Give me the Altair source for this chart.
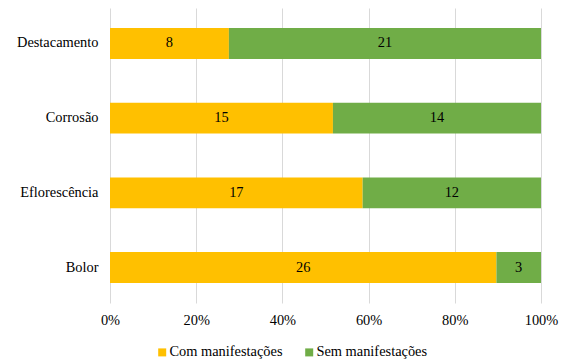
import altair as alt
import pandas as pd

categories = ["Destacamento", "Corrosão", "Eflorescência", "Bolor"]
com_values = [8, 15, 17, 26]
sem_values = [21, 14, 12, 3]
series = ["Com manifestações", "Sem manifestações"]
colors = ["#FFC000", "#70AD47"]

rows = []
for i, c in enumerate(categories):
    rows.append({"cat": c, "serie": series[0], "ord": 0, "value": com_values[i]})
    rows.append({"cat": c, "serie": series[1], "ord": 1, "value": sem_values[i]})
df = pd.DataFrame(rows)

FONT = "Liberation Serif, DejaVu Serif, serif"
FS = 14.4

y_enc = alt.Y("cat:N", sort=categories, title=None,
              scale=alt.Scale(paddingInner=0.586, paddingOuter=0.267),
              axis=alt.Axis(ticks=False, domain=False, labelFontSize=FS,
                            labelFont=FONT, labelColor="#000", labelPadding=12))

bars = alt.Chart(df).mark_bar().encode(
    x=alt.X("value:Q", stack="normalize", title=None,
            scale=alt.Scale(domain=[0, 1], nice=False),
            axis=alt.Axis(format="%", values=[0, 0.2, 0.4, 0.6, 0.8, 1.0],
                          ticks=False, domain=False, labelFontSize=FS,
                          labelFont=FONT, labelColor="#000", labelPadding=10,
                          gridColor="#d9d9d9", labelFlush=False)),
    y=y_enc,
    color=alt.Color("serie:N", sort=series,
                    scale=alt.Scale(domain=series, range=colors),
                    legend=alt.Legend(title=None, orient="none", direction="horizontal",
                                      legendX=45, legendY=337, symbolType="square",
                                      symbolSize=64, symbolStrokeWidth=0,
                                      labelFont=FONT, labelFontSize=FS, labelColor="#000",
                                      columnPadding=19, padding=0, labelOffset=0)),
    order=alt.Order("ord:Q"),
)

text = alt.Chart(df).transform_joinaggregate(
    total="sum(value)", groupby=["cat"]
).transform_window(
    cum="sum(value)", groupby=["cat"], sort=[alt.SortField("ord")]
).transform_calculate(
    mid="(datum.cum - datum.value/2) / datum.total"
).mark_text(font=FONT, fontSize=FS, color="#000").encode(
    x=alt.X("mid:Q"),
    y=alt.Y("cat:N", sort=categories),
    text="value:Q",
)

chart = (bars + text).properties(
    width=431, height=295,
    autosize=alt.AutoSizeParams(type="none"),
    padding={"left": 102, "top": 0, "right": 21, "bottom": 56},
).configure_view(stroke=None)

chart.save("out.html", embed_options={"renderer": "svg", "actions": False})
